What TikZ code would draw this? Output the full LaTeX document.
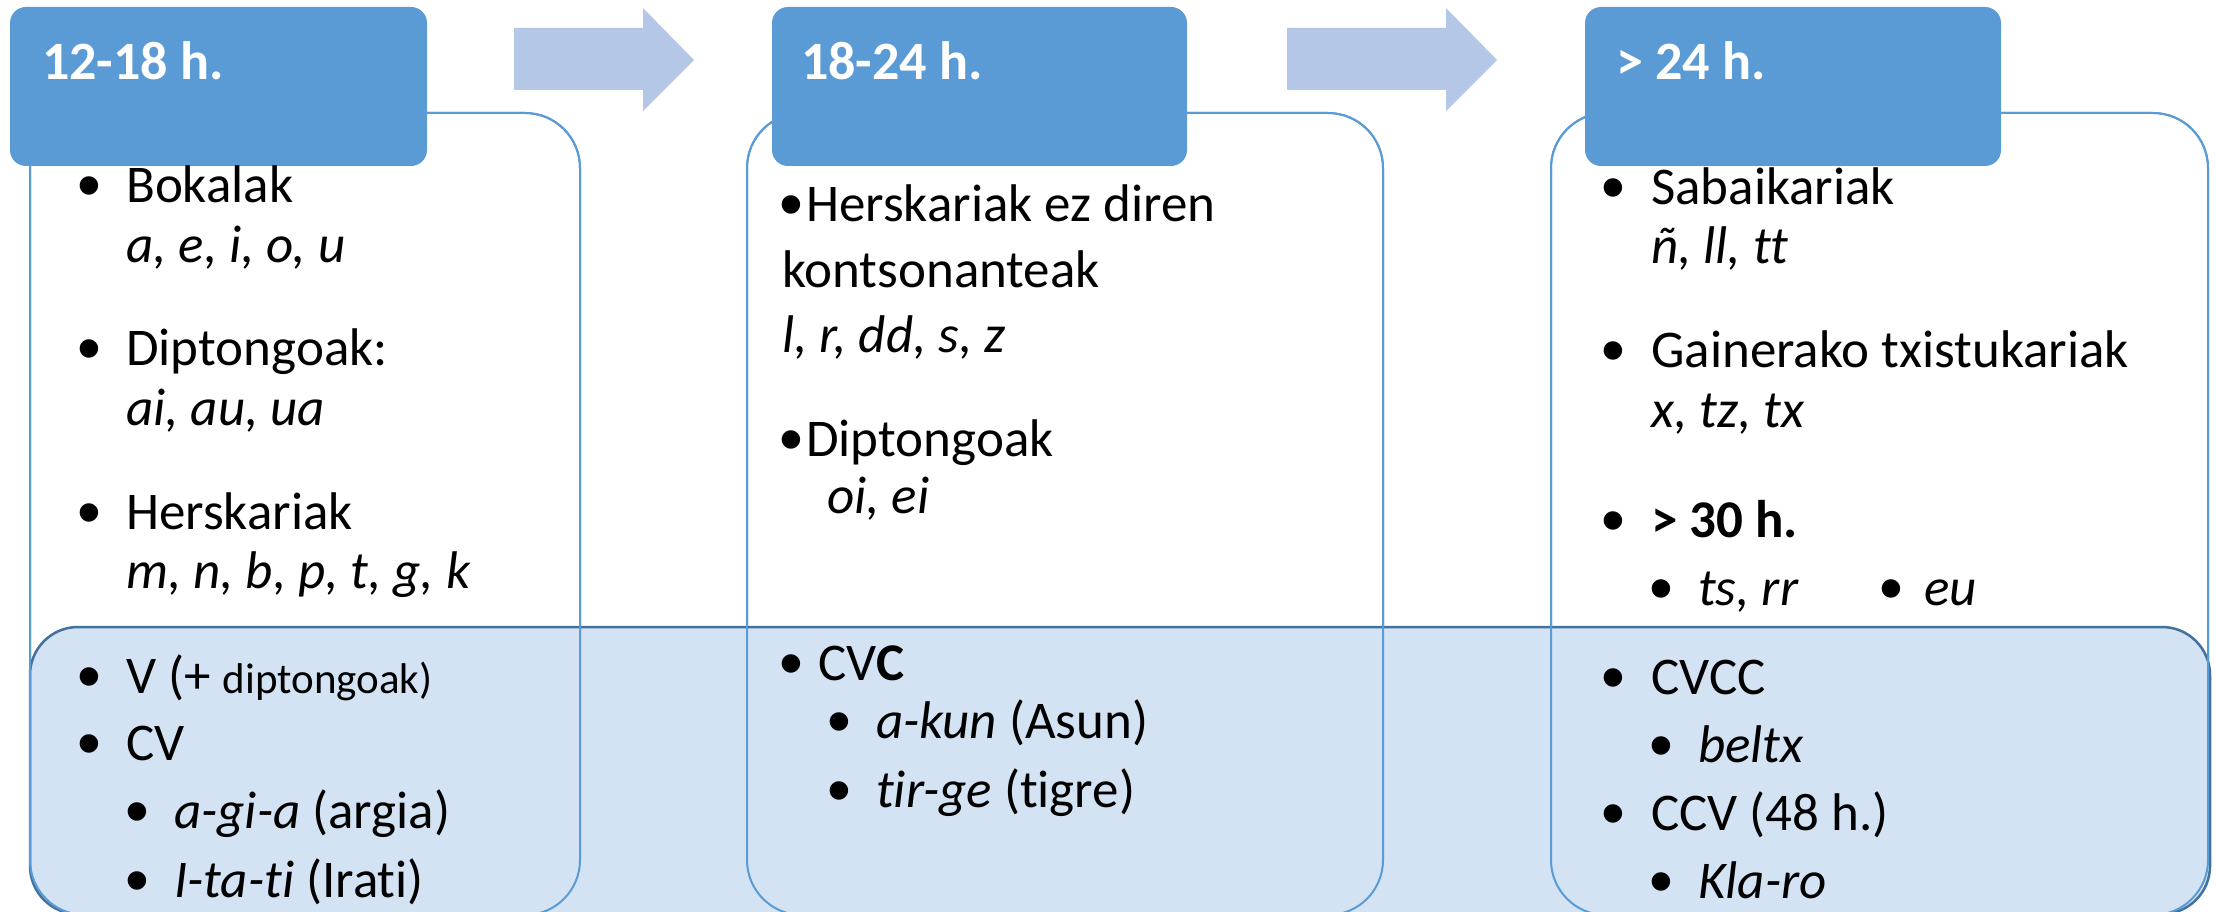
\documentclass[tikz,border=0pt]{standalone}
\usepackage{fontspec}
\setmainfont[Ligatures={NoCommon}]{Carlito}
\newfontfamily\bulfont{Liberation Sans}
\definecolor{hdr}{HTML}{5B9BD5}
\definecolor{boxline}{HTML}{5B9BD5}
\definecolor{bandfill}{HTML}{D3E3F3}
\definecolor{bandline}{HTML}{41719C}
\definecolor{arrowfill}{HTML}{B4C7E7}
\begin{document}
\begin{tikzpicture}[x=1pt,y=-1pt,
  contentbox/.style={draw=boxline, line width=2pt, rounded corners=55pt},
  bandbox/.style={fill=bandfill, draw=bandline, line width=2.5pt, rounded corners=48pt},
  hdrbox/.style={fill=hdr, rounded corners=16pt},
  flowarrow/.style={fill=arrowfill},
  hdrtxt/.style={anchor=base west, inner sep=0pt, text=white, font=\fontsize{54}{60}\selectfont\bfseries},
  txt/.style={anchor=base west, inner sep=0pt, font=\fontsize{53}{60}\selectfont},
  itx/.style={txt, font=\fontsize{53}{60}\selectfont\itshape},
  bul/.style={anchor=base, inner sep=0pt, yshift=-6pt, font=\fontsize{68}{70}\selectfont\bulfont},
]
\useasboundingbox (0,0) rectangle (2216,912);
\fill[white] (0,0) rectangle (2216,912);
% content boxes
\path[contentbox, fill=white] (30,113) rectangle (580,915);
\path[contentbox, fill=white] (747,113) rectangle (1383,915);
\path[contentbox, fill=white] (1551,113) rectangle (2208,915);
% band
\path[bandbox] (30,627) rectangle (2210,914);
% content box outlines on top of band
\path[contentbox] (30,113) rectangle (580,915);
\path[contentbox] (747,113) rectangle (1383,915);
\path[contentbox] (1551,113) rectangle (2208,915);
% headers
\path[hdrbox] (10,7) rectangle (427,166);
\path[hdrbox] (772,7) rectangle (1187,166);
\path[hdrbox] (1585,7) rectangle (2001,166);
% arrows
\path[flowarrow] (514,28) -- (643,28) -- (643,8) -- (694,60) -- (643,111) -- (643,90) -- (514,90) -- cycle;
\path[flowarrow] (1287,28) -- (1446,28) -- (1446,8) -- (1497,60) -- (1446,111) -- (1446,90) -- (1287,90) -- cycle;
% header texts
\node[hdrtxt] (h1) at (42,80) {12-18 h.};
\node[hdrtxt] (h2) at (801,80) {18-24 h.};
\node[hdrtxt] (h3) at (1616,80) {> 24 h.};
% box 1
\node[bul] (b1a) at (89,203) {•};
\node[txt] (t1a) at (126,203) {Bokalak};
\node[itx] (t1b) at (126,262) {a, e, i, o, u};
\node[bul] (b1c) at (89,365) {•};
\node[txt] (t1c) at (126,365) {Diptongoak:};
\node[itx] (t1d) at (126,425) {ai, au, ua};
\node[bul] (b1e) at (89,529) {•};
\node[txt] (t1e) at (126,529) {Herskariak};
\node[itx] (t1f) at (126,588) {m, n, b, p, t, g, k};
\node[bul] (b1g) at (89,693) {•};
\node[txt] (t1g) at (126,693) {V (+ {\fontsize{43}{48}\selectfont diptongoak)}};
\node[bul] (b1h) at (89,760) {•};
\node[txt] (t1h) at (126,760) {CV};
\node[bul] (b1i) at (137,828) {•};
\node[txt] (t1i) at (174,828) {\textit{a-gi-a} (argia)};
\node[bul] (b1j) at (137,897) {•};
\node[txt] (t1j) at (174,897) {\textit{I-ta-ti} (Irati)};
% box 2
\node[bul] (b2a) at (791,222) {•};
\node[txt] (t2a) at (806,222) {Herskariak ez diren};
\node[txt] (t2b) at (782,287) {kontsonanteak};
\node[itx] (t2c) at (782,352) {l, r, dd, s, z};
\node[bul] (b2d) at (791,456) {•};
\node[txt] (t2d) at (806,456) {Diptongoak};
\node[itx] (t2e) at (827,513) {oi, ei};
\node[bul] (b2f) at (791,680) {•};
\node[txt] (t2f) at (818,680) {CV\textbf{C}};
\node[bul] (b2g) at (839,738) {•};
\node[txt] (t2g) at (876,738) {\textit{a-kun} (Asun)};
\node[bul] (b2h) at (839,807) {•};
\node[txt] (t2h) at (876,807) {\textit{tir-ge} (tigre)};
% box 3
\node[bul] (b3a) at (1613,205) {•};
\node[txt] (t3a) at (1651,205) {Sabaikariak};
\node[itx] (t3b) at (1651,263) {ñ, ll, tt};
\node[bul] (b3c) at (1613,367) {•};
\node[txt] (t3c) at (1651,367) {Gainerako txistukariak};
\node[itx] (t3d) at (1651,427) {x, tz, tx};
\node[bul] (b3e) at (1613,537) {•};
\node[txt] (t3e) at (1651,537) {\textbf{> 30 h.}};
\node[bul] (b3f) at (1661,605) {•};
\node[itx] (t3f) at (1698,605) {ts, rr};
\node[bul] (b3g) at (1891,605) {•};
\node[itx] (t3g) at (1924,605) {eu};
\node[bul] (b3h) at (1613,694) {•};
\node[txt] (t3h) at (1651,694) {CVCC};
\node[bul] (b3i) at (1661,762) {•};
\node[itx] (t3i) at (1698,762) {beltx};
\node[bul] (b3j) at (1613,830) {•};
\node[txt] (t3j) at (1651,830) {CCV (48 h.)};
\node[bul] (b3k) at (1661,898) {•};
\node[itx] (t3k) at (1698,898) {Kla-ro};
\end{tikzpicture}
\end{document}
